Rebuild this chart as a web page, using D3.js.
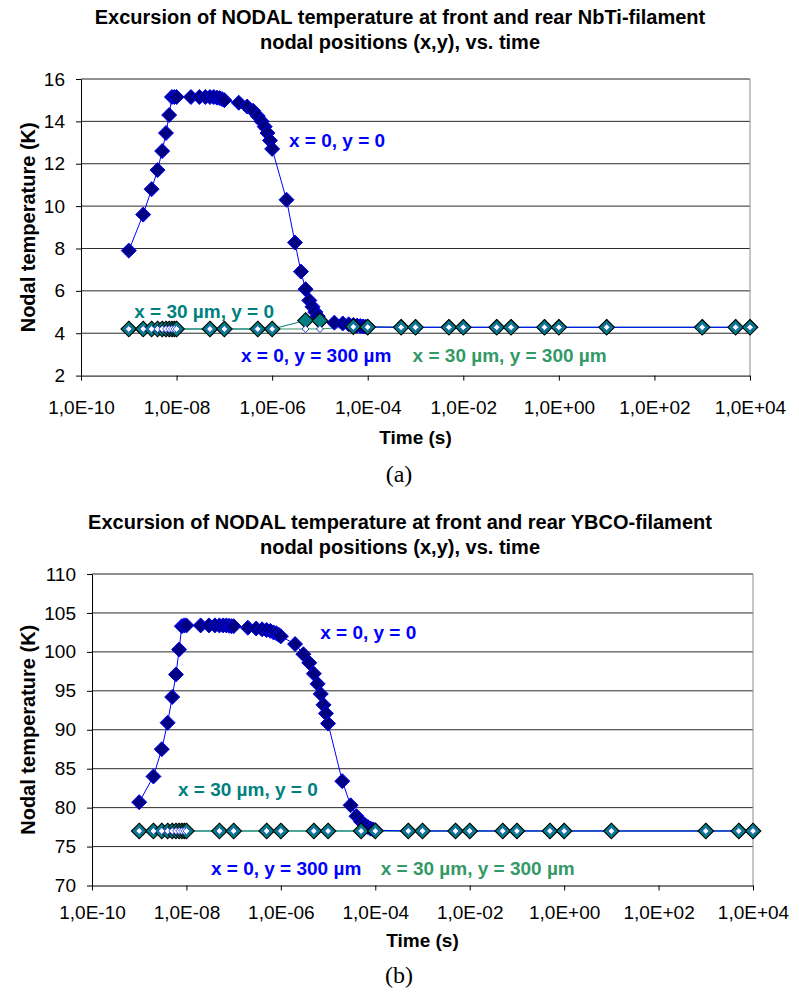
<!DOCTYPE html>
<html>
<head>
<meta charset="utf-8">
<script src="https://cdn.jsdelivr.net/npm/d3@7"></script>
<style>
  body { margin: 0; background: #fff; }
  svg text { font-family: "Liberation Sans", Arial, sans-serif; }
</style>
</head>
<body>
<svg id="fig" width="799" height="992"></svg>
<script>
// --- data -----------------------------------------------------------------

// time grid of the x = 0, y = 0 node (s)
const timesFine = [
  1e-9, 2e-9, 3e-9, 4e-9, 5e-9, 6e-9, 7e-9, 8e-9, 9e-9,
  1e-8, 2e-8, 3e-8, 4e-8, 5e-8, 6e-8, 7e-8, 8e-8, 9e-8,
  1e-7, 2e-7, 3e-7, 4e-7, 5e-7, 6e-7, 7e-7, 8e-7, 9e-7,
  1e-6, 2e-6, 3e-6, 4e-6, 5e-6, 6e-6, 7e-6, 8e-6, 9e-6,
  1e-5, 2e-5, 3e-5, 4e-5, 5e-5, 6e-5, 7e-5, 8e-5, 9e-5,
  1e-4, 5e-4, 1e-3, 5e-3, 1e-2, 5e-2, 1e-1, 5e-1, 1, 10, 1000, 5000, 1e4
];

// time grid of the other nodes (s)
const timesCoarse = [
  1e-9, 2e-9, 3e-9, 4e-9, 5e-9, 6e-9, 7e-9, 8e-9, 9e-9, 1e-8,
  5e-8, 1e-7, 5e-7, 1e-6, 5e-6, 1e-5, 5e-5, 1e-4, 5e-4, 1e-3,
  5e-3, 1e-2, 5e-2, 1e-1, 5e-1, 1, 10, 1000, 5000, 1e4
];

// (a) NbTi filament, temperatures (K)
const nbtiX0Y0 = [
  7.9, 9.6, 10.8, 11.7, 12.6, 13.45, 14.3, 15.15, 15.15,
  15.15, 15.15, 15.15, 15.15, 15.15, 15.15, 15.12, 15.1, 15.05,
  15.0, 14.88, 14.7, 14.5, 14.25, 14.0, 13.75, 13.45, 13.1,
  12.7, 10.3, 8.28, 6.91, 6.08, 5.55, 5.25, 5.0, 4.8,
  4.62, 4.5, 4.46, 4.42, 4.39, 4.36, 4.34, 4.32, 4.31,
  4.3, 4.28, 4.28, 4.28, 4.28, 4.28, 4.28, 4.28, 4.28, 4.28, 4.28, 4.28, 4.28
];
const nbtiX30Y0 = [
  4.2, 4.2, 4.2, 4.2, 4.2, 4.2, 4.2, 4.2, 4.2, 4.2,
  4.2, 4.2, 4.2, 4.2, 4.6, 4.58, 4.31, 4.29, 4.28, 4.28,
  4.28, 4.28, 4.28, 4.28, 4.28, 4.28, 4.28, 4.28, 4.28, 4.28
];
const nbtiX0Y300 = [
  4.2, 4.2, 4.2, 4.2, 4.2, 4.2, 4.2, 4.2, 4.2, 4.2,
  4.2, 4.2, 4.2, 4.2, 4.2, 4.2, 4.3, 4.29, 4.28, 4.28,
  4.28, 4.28, 4.28, 4.28, 4.28, 4.28, 4.28, 4.28, 4.28, 4.28
];
const nbtiX30Y300 = [
  4.2, 4.2, 4.2, 4.2, 4.2, 4.2, 4.2, 4.2, 4.2, 4.2,
  4.2, 4.2, 4.2, 4.2, 4.2, 4.2, 4.3, 4.29, 4.28, 4.28,
  4.28, 4.28, 4.28, 4.28, 4.28, 4.28, 4.28, 4.28, 4.28, 4.28
];

// (b) YBCO filament, temperatures (K)
const ybcoX0Y0 = [
  80.7, 84.0, 87.5, 90.9, 94.2, 97.1, 100.3, 103.3, 103.4,
  103.4, 103.4, 103.4, 103.4, 103.4, 103.4, 103.4, 103.35, 103.3,
  103.3, 103.1, 103.0, 102.9, 102.8, 102.7, 102.5, 102.4, 102.2,
  102.0, 101.0, 99.7, 98.6, 97.2, 95.9, 94.6, 93.2, 92.1,
  90.8, 83.4, 80.3, 78.9, 78.2, 77.8, 77.5, 77.3, 77.2,
  77.1, 77.0, 77.0, 77.0, 77.0, 77.0, 77.0, 77.0, 77.0, 77.0, 77.0, 77.0, 77.0
];
const ybcoX30Y0 = [
  77, 77, 77, 77, 77, 77, 77, 77, 77, 77, 77, 77, 77, 77, 77,
  77, 77, 77, 77, 77, 77, 77, 77, 77, 77, 77, 77, 77, 77, 77
];
const ybcoX0Y300 = [
  77, 77, 77, 77, 77, 77, 77, 77, 77, 77, 77, 77, 77, 77, 77,
  77, 77, 77, 77, 77, 77, 77, 77, 77, 77, 77, 77, 77, 77, 77
];
const ybcoX30Y300 = [
  77, 77, 77, 77, 77, 77, 77, 77, 77, 77, 77, 77, 77, 77, 77,
  77, 77, 77, 77, 77, 77, 77, 77, 77, 77, 77, 77, 77, 77, 77
];

// axes
const xTicks = [1e-10, 1e-8, 1e-6, 1e-4, 1e-2, 1, 1e2, 1e4];
const xTickLabels = ["1,0E-10", "1,0E-08", "1,0E-06", "1,0E-04", "1,0E-02", "1,0E+00", "1,0E+02", "1,0E+04"];
const nbtiYTicks = [2, 4, 6, 8, 10, 12, 14, 16];
const ybcoYTicks = [70, 75, 80, 85, 90, 95, 100, 105, 110];

const titleNbti = ["Excursion of NODAL temperature at front and rear NbTi-filament", "nodal positions (x,y), vs. time"];
const titleYbco = ["Excursion of NODAL temperature at front and rear YBCO-filament", "nodal positions (x,y), vs. time"];

// series look
const seriesStyle = {
  x0y0:    { line: "#0000ff", fill: "#000080", stroke: "#0000ff", r: 7.5, sw: 1 },
  x30y300: { line: "#339966", fill: "#339966", stroke: "#000000", r: 3.2, sw: 0.8 },
  x30y0:   { line: "#008080", fill: "#008080", stroke: "#000000", r: 7.8, sw: 1.1 },
  x0y300:  { line: null,      fill: "#ffffff", stroke: "#2233ee", r: 3.4, sw: 0.8 }
};
// lines go under the markers; the blue line ends on top of the flat tail
const lineOrder = ["x30y300", "x30y0", "x0y300", "x0y0"];
const markerOrder = ["x0y0", "x30y300", "x30y0", "x0y300"];

const panels = [
  {
    title: titleNbti, titleY: [24, 49],
    left: 81, right: 750, top: 79, bottom: 375.6,
    yDomain: [2, 16], yTicks: nbtiYTicks,
    tickY: 415, axisTitleY: 444, caption: "(a)", captionY: 482,
    series: {
      x0y0: { t: timesFine, v: nbtiX0Y0 },
      x30y300: { t: timesCoarse, v: nbtiX30Y300 },
      x30y0: { t: timesCoarse, v: nbtiX30Y0 },
      x0y300: { t: timesCoarse, v: nbtiX0Y300 }
    },
    labels: [
      { text: "x = 0, y = 0", t: 2.25e-6, v: 13.12, color: "#0000ff" },
      { text: "x = 30 \u00b5m, y = 0", t: 1.3e-9, v: 5.06, color: "#008080" },
      { text: "x = 0, y = 300 \u00b5m", t: 2.23e-7, v: 2.97, color: "#0000ff" },
      { text: "x = 30 \u00b5m, y = 300 \u00b5m", t: 8.7e-4, v: 2.97, color: "#339966" }
    ]
  },
  {
    title: titleYbco, titleY: [529, 554],
    left: 92, right: 753, top: 574, bottom: 885.5,
    yDomain: [70, 110], yTicks: ybcoYTicks,
    tickY: 920, axisTitleY: 947, caption: "(b)", captionY: 983,
    series: {
      x0y0: { t: timesFine, v: ybcoX0Y0 },
      x30y300: { t: timesCoarse, v: ybcoX30Y300 },
      x30y0: { t: timesCoarse, v: ybcoX30Y0 },
      x0y300: { t: timesCoarse, v: ybcoX0Y300 }
    },
    labels: [
      { text: "x = 0, y = 0", t: 6.8e-6, v: 102.55, color: "#0000ff" },
      { text: "x = 30 \u00b5m, y = 0", t: 6.6e-9, v: 82.4, color: "#008080" },
      { text: "x = 0, y = 300 \u00b5m", t: 3.3e-8, v: 72.25, color: "#0000ff" },
      { text: "x = 30 \u00b5m, y = 300 \u00b5m", t: 1.3e-4, v: 72.25, color: "#339966" }
    ]
  }
];

// --- drawing --------------------------------------------------------------

const svg = d3.select("#fig");
svg.append("rect").attr("width", 799).attr("height", 992).attr("fill", "#fff");

const diamond = r => `M0,${-r}L${r},0L0,${r}L${-r},0Z`;

panels.forEach(p => {
  const g = svg.append("g");
  const x = d3.scaleLog().domain([1e-10, 1e4]).range([p.left, p.right]);
  const y = d3.scaleLinear().domain(p.yDomain).range([p.bottom, p.top]);

  // title
  g.selectAll(".title").data(p.title).enter().append("text")
    .attr("x", 400).attr("y", (d, i) => p.titleY[i])
    .attr("text-anchor", "middle")
    .attr("font-size", 20).attr("font-weight", "bold")
    .text(d => d);

  // gridlines
  g.selectAll(".grid").data(p.yTicks.slice(1)).enter().append("line")
    .attr("x1", p.left).attr("x2", p.right)
    .attr("y1", d => y(d)).attr("y2", d => y(d))
    .attr("stroke", "#2a2a2a").attr("stroke-width", 1);

  // plot border (top / right)
  g.append("path")
    .attr("d", `M${p.left},${p.top}H${p.right}V${p.bottom}`)
    .attr("fill", "none").attr("stroke", "#8c8c8c");

  // axes
  const yAxis = g.append("g").attr("transform", `translate(${p.left},0)`)
    .call(d3.axisLeft(y).tickValues(p.yTicks).tickSize(5).tickPadding(11).tickSizeOuter(0));
  yAxis.selectAll("text").attr("font-size", 19).attr("fill", "#000")
    .style("font-family", "'Liberation Sans', Arial, sans-serif");

  const xAxis = g.append("g").attr("transform", `translate(0,${p.bottom})`)
    .call(d3.axisBottom(x).tickValues(xTicks).tickFormat((d, i) => xTickLabels[i])
      .tickSize(5).tickPadding(p.tickY - p.bottom - 19).tickSizeOuter(0));
  xAxis.selectAll("text").attr("font-size", 19).attr("fill", "#000")
    .style("font-family", "'Liberation Sans', Arial, sans-serif");
  [yAxis, xAxis].forEach(a => {
    a.select(".domain").attr("stroke", "#000");
    a.selectAll(".tick line").attr("stroke", "#000");
  });

  // axis titles
  g.append("text")
    .attr("x", (p.left + p.right) / 2).attr("y", p.axisTitleY)
    .attr("text-anchor", "middle").attr("font-size", 19).attr("font-weight", "bold")
    .text("Time (s)");
  g.append("text")
    .attr("transform", `translate(35,${(p.top + p.bottom) / 2}) rotate(-90)`)
    .attr("text-anchor", "middle").attr("font-size", 20).attr("font-weight", "bold")
    .text("Nodal temperature (K)");

  // series lines
  const line = d3.line().x(d => x(d[0])).y(d => y(d[1]));
  const pointsOf = key => p.series[key].t.map((t, i) => [t, p.series[key].v[i]]);
  lineOrder.forEach(key => {
    const st = seriesStyle[key];
    if (!st.line) return;
    g.append("path").attr("d", line(pointsOf(key)))
      .attr("fill", "none").attr("stroke", st.line).attr("stroke-width", 1);
  });

  // series markers
  markerOrder.forEach(key => {
    const st = seriesStyle[key];
    g.append("g").selectAll("path").data(pointsOf(key)).enter().append("path")
      .attr("d", diamond(st.r))
      .attr("transform", d => `translate(${x(d[0])},${y(d[1])})`)
      .attr("fill", st.fill).attr("stroke", st.stroke).attr("stroke-width", st.sw);
  });

  // series labels
  g.selectAll(".lab").data(p.labels).enter().append("text")
    .attr("x", d => x(d.t)).attr("y", d => y(d.v)).attr("dy", "0.36em")
    .attr("font-size", 19).attr("font-weight", "bold")
    .attr("fill", d => d.color)
    .text(d => d.text);

  // caption
  g.append("text")
    .attr("x", 399).attr("y", p.captionY)
    .attr("text-anchor", "middle")
    .style("font-family", "'Liberation Serif', 'Times New Roman', serif")
    .attr("font-size", 24)
    .text(p.caption);
});
</script>
</body>
</html>
